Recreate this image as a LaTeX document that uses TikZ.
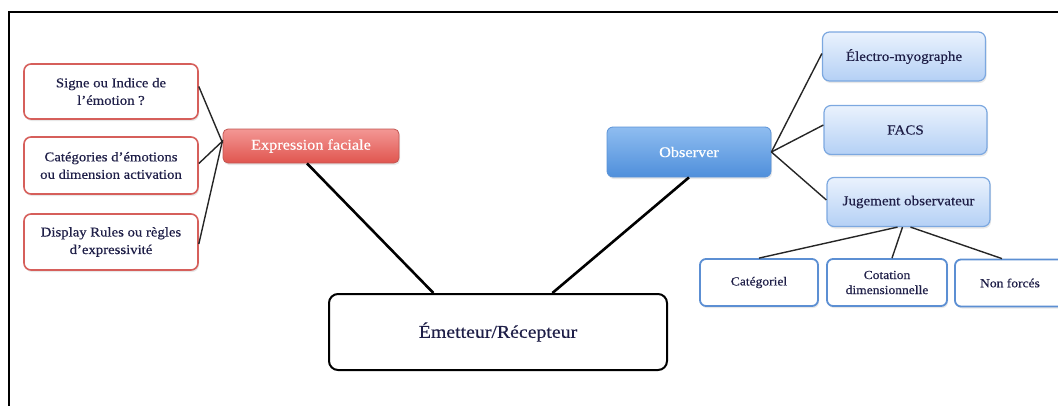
\documentclass[tikz,border=0pt]{standalone}
\usepackage{fontspec}
\setmainfont{Liberation Serif}[FakeStretch=1.1,FakeBold=0.45]
\usetikzlibrary{calc,shadows}
\definecolor{txt}{HTML}{1F1F48}
\definecolor{redline}{HTML}{D65F5B}
\definecolor{redtop}{HTML}{F39794}
\definecolor{redbot}{HTML}{E0554F}
\definecolor{obstop}{HTML}{8FBDF0}
\definecolor{obsbot}{HTML}{4F8FDB}
\definecolor{obsline}{HTML}{5A92D6}
\definecolor{lbtop}{HTML}{EAF2FD}
\definecolor{lbbot}{HTML}{B4D0F5}
\definecolor{lbline}{HTML}{7CA8E0}
\definecolor{wbline}{HTML}{5C8FD3}
\begin{document}
\begin{tikzpicture}[x=1pt,y=-1pt,
  shad/.style={drop shadow={opacity=0.18,shadow xshift=1pt,shadow yshift=-2pt}},
  lbox/.style={draw=redline,line width=1.6pt,rounded corners=7pt,fill=white,shad,
    minimum width=174pt,align=center,text=txt,font=\fontsize{13.4}{17.5}\selectfont},
  efbox/.style={draw=redline!90!black,line width=0.8pt,rounded corners=5pt,top color=redtop,bottom color=redbot,shad,
    minimum width=176pt,minimum height=34pt,text=white,font=\fontsize{14.8}{17}\selectfont},
  obsbox/.style={draw=obsline,line width=0.8pt,rounded corners=6pt,top color=obstop,bottom color=obsbot,shad,
    minimum width=164pt,minimum height=50pt,text=white,font=\fontsize{14.8}{17}\selectfont},
  rbox/.style={draw=lbline,line width=1.2pt,rounded corners=7pt,top color=lbtop,bottom color=lbbot,shad,
    minimum width=163pt,minimum height=49pt,text=txt,font=\fontsize{13.7}{16}\selectfont},
  wbox/.style={draw=wbline,line width=1.8pt,rounded corners=6pt,fill=white,shad,
    minimum height=47pt,align=center,text=txt,font=\fontsize{12.3}{15}\selectfont},
  embox/.style={draw=black,line width=2pt,rounded corners=9pt,fill=white,
    minimum width=338pt,minimum height=76pt,text=txt,font=\fontsize{18}{21}\selectfont},
  thin/.style={draw=black!85,line width=1.4pt},
  thick/.style={draw=black,line width=2.6pt}]
\useasboundingbox (0,0) rectangle (1058,405);
% frame
\draw[line width=2pt,black] (9,406) -- (9,12) -- (1060,12);
% nodes
\node[lbox,minimum height=55pt] (s1) at (111,91.5) {Signe ou Indice de\\l’émotion ?};
\node[lbox,minimum height=57pt] (s2) at (111,165.5) {Catégories d’émotions\\ou dimension activation};
\node[lbox,minimum height=56pt] (s3) at (111,242) {Display Rules ou règles\\d’expressivité};
\node[efbox] (ef) at (311,146) {Expression faciale};
\node[obsbox] (obs) at (689,152) {Observer};
\node[rbox] (el) at (904,56.5) {Électro-myographe};
\node[rbox] (facs) at (905.5,130) {FACS};
\node[rbox] (jug) at (908.5,202) {Jugement observateur};
\node[wbox,minimum width=118pt] (cat) at (759,282.5) {Catégoriel};
\node[wbox,minimum width=120pt] (cot) at (887,282.5) {Cotation\\dimensionnelle};
\node[wbox,minimum width=110pt] (non) at (1010,283) {Non forcés};
\node[embox] (em) at (498,332) {Émetteur/Récepteur};
% connectors
\coordinate (emA) at ($(em.north west)!0.31!(em.north east)$);
\coordinate (emB) at ($(em.north west)!0.66!(em.north east)$);
\draw[thin] ([yshift=5pt]s1.east) -- ([yshift=3pt]ef.west);
\draw[thin] ([yshift=2pt]s2.east) -- ([yshift=5pt]ef.west);
\draw[thin] ([yshift=-2pt]s3.east) -- ([yshift=6pt]ef.west);
\draw[thick] ([xshift=-4pt]ef.south) -- (emA);
\draw[thick] (obs.south) -- (emB);
\draw[thin] (obs.east) -- ([yshift=3pt]el.west);
\draw[thin] (obs.east) -- ([yshift=5pt]facs.west);
\draw[thin] (obs.east) -- ([yshift=2pt]jug.west);
\draw[thin] ([xshift=-11pt]jug.south) -- (cat.north);
\draw[thin] ([xshift=-6pt]jug.south) -- ([xshift=5pt]cot.north);
\draw[thin] ([xshift=2pt]jug.south) -- ([xshift=-8pt]non.north);
\end{tikzpicture}
\end{document}
